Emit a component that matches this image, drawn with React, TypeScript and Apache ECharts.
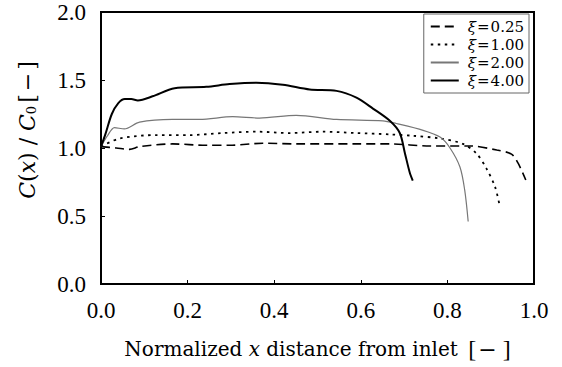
import React, { useEffect, useRef } from "react";
import * as echarts from "echarts";

const xTicks = [0, 0.2, 0.4, 0.6, 0.8, 1.0];
const yTicks = [0, 0.5, 1.0, 1.5, 2.0];
const seriesNames = ["ξ=0.25", "ξ=1.00", "ξ=2.00", "ξ=4.00"];

const xi025 = [[0, 1.01], [0.035, 1.0], [0.066, 0.99], [0.089, 1.01], [0.165, 1.03], [0.243, 1.02], [0.297, 1.02], [0.374, 1.035], [0.451, 1.03], [0.59, 1.03], [0.667, 1.03], [0.76, 1.015], [0.852, 1.015], [0.914, 0.985], [0.948, 0.955], [0.963, 0.89], [0.981, 0.765]];
const xi100 = [[0, 1.01], [0.043, 1.07], [0.128, 1.095], [0.205, 1.095], [0.281, 1.11], [0.359, 1.12], [0.436, 1.11], [0.512, 1.12], [0.59, 1.11], [0.667, 1.1], [0.72, 1.09], [0.783, 1.07], [0.836, 1.03], [0.867, 0.96], [0.89, 0.85], [0.91, 0.715], [0.921, 0.57]];
const xi200 = [[0, 1.01], [0.015, 1.09], [0.031, 1.15], [0.054, 1.14], [0.089, 1.19], [0.165, 1.21], [0.228, 1.21], [0.304, 1.23], [0.366, 1.22], [0.451, 1.24], [0.544, 1.21], [0.651, 1.2], [0.682, 1.18], [0.744, 1.13], [0.783, 1.08], [0.806, 1.0], [0.829, 0.86], [0.84, 0.69], [0.848, 0.46]];
const xi400 = [[0, 1.01], [0.01, 1.1], [0.025, 1.25], [0.04, 1.33], [0.055, 1.36], [0.07, 1.36], [0.085, 1.35], [0.119, 1.38], [0.17, 1.44], [0.243, 1.45], [0.297, 1.47], [0.359, 1.48], [0.42, 1.465], [0.482, 1.43], [0.544, 1.42], [0.59, 1.37], [0.628, 1.29], [0.667, 1.2], [0.69, 1.11], [0.702, 0.96], [0.713, 0.82], [0.72, 0.76]];

const TIMES = "'Liberation Serif', serif";
const CENT = "'DejaVu Serif', serif";

export default function App() {
  const ref = useRef<HTMLDivElement>(null);
  useEffect(() => {
    document.body.style.margin = "0";
    const chart = echarts.init(ref.current!, null, { renderer: "svg" });
    const mk = (name: string, data: number[][], ls: any) => ({
      name,
      type: "line",
      data,
      symbol: "none",
      showSymbol: false,
      smooth: 0.3,
      itemStyle: { color: ls.color },
      lineStyle: ls,
    });
    chart.setOption({
      animation: false,
      backgroundColor: "#fff",
      textStyle: { fontFamily: TIMES, color: "#000" },
      grid: { left: 101, right: 28, top: 12, bottom: 83, show: true, borderColor: "#000", borderWidth: 2, backgroundColor: "transparent" },
      legend: {
        orient: "vertical",
        right: 33,
        top: 14,
        itemWidth: 28,
        itemHeight: 16,
        itemGap: 3,
        padding: [5, 5, 5, 6],
        borderColor: "#666",
        borderWidth: 1,
        backgroundColor: "#fff",
        itemStyle: { opacity: 0 },
        data: seriesNames,
        formatter: (n: string) => "{i|ξ}{e|=}{n|" + n.slice(2) + "}",
        textStyle: {
          fontFamily: CENT,
          fontSize: 15,
          color: "#000",
          rich: {
            i: { fontFamily: CENT, fontStyle: "italic", fontSize: 15, color: "#000", padding: [0, 0, 0, 4] },
            e: { fontFamily: CENT, fontSize: 15, color: "#000", padding: [0, 1, 0, 1] },
            n: { fontFamily: CENT, fontSize: 15, color: "#000" },
          },
        },
      },
      xAxis: {
        type: "value",
        min: xTicks[0],
        max: xTicks[xTicks.length - 1],
        interval: 0.2,
        splitLine: { show: false },
        axisLine: { lineStyle: { color: "#000", width: 2 } },
        axisTick: { inside: true, length: 4, lineStyle: { color: "#000", width: 1 } },
        axisLabel: { color: "#000", fontSize: 23, fontFamily: TIMES, margin: 15, formatter: (v: number) => v.toFixed(1) },
        name: "{n|Normalized }{i|x}{n| distance from inlet }{b|[}{m|−}{b|]}",
        nameLocation: "middle",
        nameGap: 53,
        nameTextStyle: {
          color: "#000",
          fontFamily: CENT,
          fontSize: 20,
          rich: {
            n: { fontFamily: CENT, fontSize: 20, color: "#000" },
            i: { fontFamily: CENT, fontSize: 20, fontStyle: "italic", color: "#000" },
            b: { fontFamily: TIMES, fontSize: 24, color: "#000", padding: [0, 0, 0, 4] },
            m: { fontFamily: CENT, fontSize: 22, color: "#000", padding: [0, 2, 0, 2] },
          },
        },
      },
      yAxis: {
        type: "value",
        min: yTicks[0],
        max: yTicks[yTicks.length - 1],
        interval: 0.5,
        splitLine: { show: false },
        axisLine: { lineStyle: { color: "#000", width: 2 } },
        axisTick: { inside: true, length: 4, lineStyle: { color: "#000", width: 1 } },
        axisLabel: { color: "#000", fontSize: 23, fontFamily: TIMES, margin: 15, formatter: (v: number) => v.toFixed(1) },
        name: "{i|C}{n|(}{i|x}{n|)}{n| / }{i|C}{s|0}{n|[}{m|−}{n|]}",
        nameLocation: "middle",
        nameRotate: 90,
        nameGap: 63,
        nameTextStyle: {
          color: "#000",
          fontFamily: CENT,
          fontSize: 22,
          padding: [0, 0, 0, 36],
          rich: {
            n: { fontFamily: CENT, fontSize: 22, color: "#000" },
            i: { fontFamily: CENT, fontSize: 22, fontStyle: "italic", color: "#000" },
            m: { fontFamily: CENT, fontSize: 22, color: "#000", padding: [0, 3, 0, 3] },
            s: { fontFamily: CENT, fontSize: 13, color: "#000", padding: [9, 3, 0, 0] },
          },
        },
      },
      series: [
        mk(seriesNames[0], xi025, { color: "#000", width: 1.6, type: [9, 5] }),
        mk(seriesNames[1], xi100, { color: "#000", width: 1.8, type: [2.5, 4.5] }),
        mk(seriesNames[2], xi200, { color: "#777", width: 1.2, type: "solid" }),
        mk(seriesNames[3], xi400, { color: "#000", width: 2, type: "solid" }),
      ],
    });
    return () => chart.dispose();
  }, []);
  return <div ref={ref} style={{ width: 562, height: 367 }} />;
}
